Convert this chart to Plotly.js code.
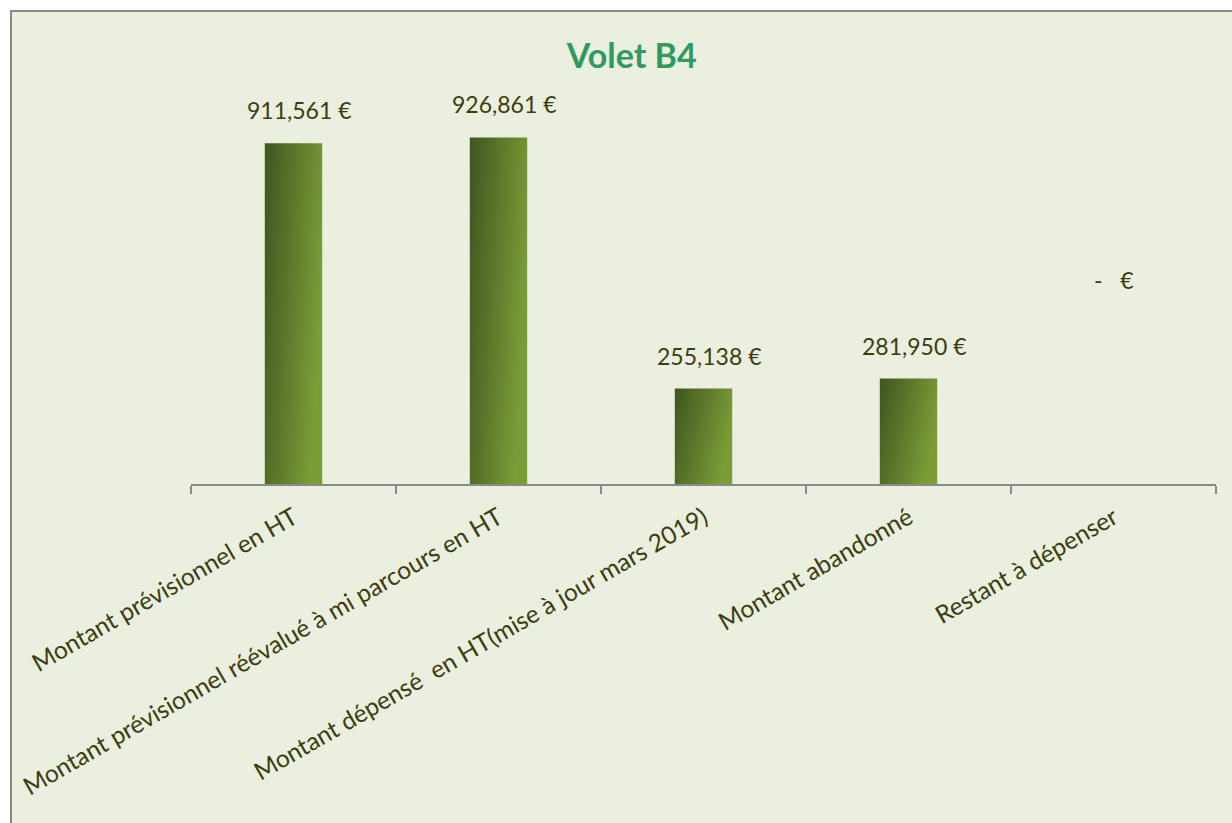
<!DOCTYPE html>
<html>
<head>
<meta charset="utf-8">
<script src="https://cdn.plot.ly/plotly-3.0.1.min.js"></script>
<style>
  body { margin: 0; background: #ffffff; }
  #frame {
    position: absolute; left: 10px; top: 10px;
    width: 1220px; height: 811px;
    border-left: 2px solid #8a8a8a; border-top: 2px solid #8a8a8a;
    background: #ebefdf;
  }
  #chart { width: 1220px; height: 811px; }
</style>
</head>
<body>
<div id="frame"><div id="chart"></div></div>
<script>
const categories = [
  'Montant prévisionnel en HT',
  'Montant prévisionnel réévalué à mi parcours en HT',
  'Montant dépensé  en HT(mise à jour mars 2019)',
  'Montant abandonné',
  'Restant à dépenser'
];
const amounts = [911561, 926861, 255138, 281950, 0];

const textColor = '#3b3d0e';

function euro(v) {
  if (v === 0) return '-   €';
  return v.toLocaleString('en-US') + ' €';
}

// étiquettes de valeurs (Excel les place plus haut que Plotly)
let labels = amounts.map((v, i) => {
  if (v === 0) {
    return {
      x: categories[i], y: 0.5, yref: 'paper',
      text: euro(v), showarrow: false,
      font: {family: 'Lato', size: 23, color: textColor}
    };
  }
  return {
    x: categories[i], y: v, yanchor: 'middle', yshift: 33, xshift: 6,
    text: euro(v), showarrow: false,
    font: {family: 'Lato', size: 23, color: textColor}
  };
});

let data = [{
  type: 'bar',
  x: categories,
  y: amounts,
  marker: {color: '#5c7a29'},
  hoverinfo: 'none'
}];

let layout = {
  width: 1220,
  height: 811,
  paper_bgcolor: '#ebefdf',
  plot_bgcolor: '#ebefdf',
  margin: {l: 179, r: 16, t: 63, b: 339},
  bargap: 0.72,
  showlegend: false,
  title: {
    text: '<b>Volet B4</b>',
    x: 0.508, xanchor: 'center',
    y: 1 - 44 / 811, yanchor: 'middle', yref: 'container',
    font: {family: 'Lato', size: 34, color: '#2e9a62'}
  },
  xaxis: {
    type: 'category',
    tickangle: -30,
    tickson: 'boundaries',
    ticks: 'outside', ticklen: 8, tickwidth: 2, tickcolor: '#8a8a8a',
    ticklabelstandoff: 8,
    showline: true, linecolor: '#8a8a8a', linewidth: 2,
    showgrid: false,
    tickfont: {family: 'Lato', size: 24.5, color: textColor}
  },
  yaxis: {
    range: [0, 1094000],
    visible: false,
    showgrid: false,
    zeroline: false
  },
  annotations: labels
};

let config = {staticPlot: true};

Plotly.newPlot('chart', data, layout, config).then(function (gd) {
  // dégradé des barres comme dans Excel
  let svg = gd.querySelector('svg.main-svg');
  let ns = 'http://www.w3.org/2000/svg';
  let defs = svg.querySelector('defs') || svg.insertBefore(document.createElementNS(ns, 'defs'), svg.firstChild);
  let grad = document.createElementNS(ns, 'linearGradient');
  grad.setAttribute('id', 'barGrad');
  grad.setAttribute('x1', '0'); grad.setAttribute('y1', '0');
  grad.setAttribute('x2', '1'); grad.setAttribute('y2', '0.35');
  [['0', '#3f551f'], ['1', '#7b9b37']].forEach(function (s) {
    let stop = document.createElementNS(ns, 'stop');
    stop.setAttribute('offset', s[0]);
    stop.setAttribute('stop-color', s[1]);
    grad.appendChild(stop);
  });
  defs.appendChild(grad);
  gd.querySelectorAll('.bars .point path').forEach(function (p) {
    p.style.fill = 'url(#barGrad)';
  });
});
</script>
</body>
</html>
